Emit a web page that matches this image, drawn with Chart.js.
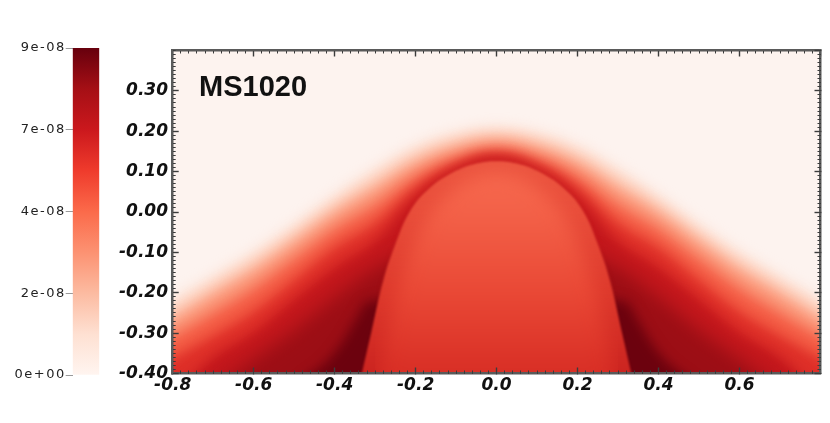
<!DOCTYPE html>
<html>
<head>
<meta charset="utf-8">
<title>MS1020</title>
<script src="https://cdn.jsdelivr.net/npm/chart.js@4.4.1/dist/chart.umd.min.js"></script>
<style>
  html, body { margin: 0; padding: 0; background: #fff; }
  #wrap { position: relative; width: 830px; height: 423px; }
  #wrap canvas { position: absolute; left: 0; top: 0; }
</style>
</head>
<body>
<div id="wrap">
  <canvas id="field" width="830" height="423"></canvas>
  <canvas id="colorbar" width="110" height="423"></canvas>
</div>
<script>
// ---- values ----
const panelLabel = 'MS1020';

const xMajorTicks = [-0.8, -0.6, -0.4, -0.2, 0.0, 0.2, 0.4, 0.6];
const xTickLabels = ['-0.8', '-0.6', '-0.4', '-0.2', '0.0', '0.2', '0.4', '0.6'];
const yMajorTicks = [-0.4, -0.3, -0.2, -0.1, 0.0, 0.1, 0.2, 0.3];
const yTickLabels = ['-0.40', '-0.30', '-0.20', '-0.10', '0.00', '0.10', '0.20', '0.30'];

const cbTickValues = [0, 2.25e-8, 4.5e-8, 6.75e-8, 9e-8];
const cbTickLabels = ['0e+00', '2e-08', '4e-08', '7e-08', '9e-08'];
const cbStops = [0, 0.125, 0.25, 0.375, 0.5, 0.625, 0.75, 0.875, 1];
const cbColors = ['#fff5f0', '#fee0d2', '#fcbba1', '#fc9272', '#fb6a4a', '#ef3b2c', '#cb181d', '#a50f15', '#67000d'];

// level lines of the field, y at each x (outer shell, outermost first)
const shellX     = [-0.9, -0.8, -0.7, -0.6, -0.5, -0.4, -0.3, -0.2, -0.1, 0.0, 0.1, 0.2, 0.3, 0.4, 0.5, 0.6, 0.7, 0.8, 0.9];
const edgePale   = [-0.285, -0.222, -0.163, -0.103, -0.035, 0.037, 0.103, 0.160, 0.194, 0.207, 0.194, 0.160, 0.103, 0.037, -0.035, -0.103, -0.163, -0.222, -0.285];
const edgeSalmon = [-0.320, -0.262, -0.200, -0.140, -0.070, 0.002, 0.064, 0.126, 0.165, 0.182, 0.165, 0.126, 0.064, 0.002, -0.070, -0.140, -0.200, -0.262, -0.320];
const edgeOrange = [-0.365, -0.308, -0.250, -0.189, -0.116, -0.042, 0.018, 0.090, 0.136, 0.158, 0.136, 0.090, 0.018, -0.042, -0.116, -0.189, -0.250, -0.308, -0.365];
const edgeRed    = [-0.418, -0.362, -0.306, -0.246, -0.168, -0.088, -0.027, 0.062, 0.120, 0.145, 0.120, 0.062, -0.027, -0.088, -0.168, -0.246, -0.306, -0.362, -0.418];
const haloDark   = [-0.520, -0.450, -0.360, -0.298, -0.216, -0.138, -0.072, 0.038, 0.107, 0.136, 0.107, 0.038, -0.072, -0.138, -0.216, -0.298, -0.360, -0.450, -0.520];
const haloDeep   = [-0.620, -0.550, -0.445, -0.365, -0.292, -0.212, -0.140, -0.100, -0.100, -0.100, -0.100, -0.100, -0.140, -0.212, -0.292, -0.365, -0.445, -0.550, -0.620];

// darkest spots at the foot of the inner dome
const footX = [-0.54, -0.47, -0.42, -0.38, -0.35, -0.31, 0.0, 0.31, 0.35, 0.38, 0.42, 0.47, 0.54];
const footY = [-0.47, -0.41, -0.37, -0.32, -0.27, -0.22, -0.22, -0.22, -0.27, -0.32, -0.37, -0.41, -0.47];

// inner dome outline and its lighter core
const domeX = [-0.345, -0.333, -0.31, -0.28, -0.25, -0.215, -0.17, -0.11, -0.05, 0.0, 0.05, 0.11, 0.17, 0.215, 0.25, 0.28, 0.31, 0.333, 0.345];
const domeY = [-0.45, -0.40, -0.30, -0.17, -0.08, 0.0, 0.055, 0.097, 0.120, 0.126, 0.120, 0.097, 0.055, 0.0, -0.08, -0.17, -0.30, -0.40, -0.45];
const coreX = [-0.30, -0.27, -0.23, -0.18, -0.12, -0.06, 0.0, 0.06, 0.12, 0.18, 0.23, 0.27, 0.30];
const coreY = [-0.45, -0.30, -0.15, -0.03, 0.045, 0.085, 0.097, 0.085, 0.045, -0.03, -0.15, -0.30, -0.45];

const domeShadeAt = [0.126, 0.0, -0.2, -0.4];
const domeShell   = ['#ec5540', '#e94d3a', '#de392c', '#cc2420'];
const domeCore    = ['#f66a4f', '#f36148', '#e94835', '#d82e25'];

// ---- drawing ----
const AXIS = '#5a5a5a';
const TICK = '#3c3c3c';
const tickFont = { family: 'DejaVu Sans', size: 17, weight: 'bold', style: 'italic' };
const labelAt = [-0.735, 0.307];

function shade(stops, colors) {
  return (c) => {
    const chart = c.chart;
    if (!chart.chartArea) return colors[0];
    const ys = chart.scales.y;
    const top = stops[0], bot = stops[stops.length - 1];
    const g = chart.ctx.createLinearGradient(0, ys.getPixelForValue(top), 0, ys.getPixelForValue(bot));
    stops.forEach((s, i) => g.addColorStop((top - s) / (top - bot), colors[i]));
    return g;
  };
}

// bottom layer first
const layers = [
  { xs: shellX, ys: edgePale,   color: '#fdd3c0', blur: 7 },
  { xs: shellX, ys: edgeSalmon, color: '#fb9677', blur: 7 },
  { xs: shellX, ys: edgeOrange, color: '#f35a43', blur: 7 },
  { xs: shellX, ys: edgeRed,    color: '#de2f28', blur: 6 },
  { xs: shellX, ys: haloDark,   color: '#c3171c', blur: 6 },
  { xs: shellX, ys: haloDeep,   color: '#9c0e15', blur: 9 },
  { xs: footX,  ys: footY,      color: '#6c020e', blur: 6 },
  { xs: domeX,  ys: domeY,      color: shade(domeShadeAt, domeShell), blur: 1 },
  { xs: coreX,  ys: coreY,      color: shade(domeShadeAt, domeCore), blur: 9 }
];

const datasets = layers.map((l, i) => ({
  data: l.xs.map((x, k) => ({ x: x, y: l.ys[k] })),
  backgroundColor: l.color,
  borderColor: 'rgba(0,0,0,0)',
  borderWidth: 0,
  pointRadius: 0,
  fill: { value: -0.7 },
  tension: 0.4,
  capBezierPoints: false,
  blur: l.blur,
  order: layers.length - i
}));

function drawSeq(chart) {
  return chart.getSortedVisibleDatasetMetas().map(m => m.index).reverse();
}
function blurOf(chart, i) {
  const b = chart.data.datasets[i].blur || 0;
  return b ? 'blur(' + b + 'px)' : 'none';
}

// soft edges: each layer gets its own blur (set before the filler paints it)
const softEdges = {
  id: 'softEdges',
  beforeDatasetsDraw(chart) {
    const seq = drawSeq(chart);
    chart.ctx.filter = seq.length ? blurOf(chart, seq[0]) : 'none';
  },
  afterDatasetDraw(chart, args) {
    const seq = drawSeq(chart);
    const k = seq.indexOf(args.index);
    chart.ctx.filter = k + 1 < seq.length ? blurOf(chart, seq[k + 1]) : 'none';
  },
  afterDatasetsDraw(chart) {
    chart.ctx.filter = 'none';
  }
};

const paper = {
  id: 'paper',
  beforeDraw(chart) {
    const { ctx, chartArea: a } = chart;
    ctx.save();
    ctx.fillStyle = '#fdf3ef';
    ctx.fillRect(a.left, a.top, a.right - a.left, a.bottom - a.top);
    ctx.restore();
  }
};

const panelTag = {
  id: 'panelTag',
  afterDatasetsDraw(chart) {
    const { ctx, scales } = chart;
    ctx.save();
    ctx.filter = 'none';
    ctx.font = 'bold 29px "Liberation Sans", Arial, sans-serif';
    ctx.fillStyle = '#111';
    ctx.textBaseline = 'middle';
    ctx.fillText(panelLabel, scales.x.getPixelForValue(labelAt[0]), scales.y.getPixelForValue(labelAt[1]));
    ctx.restore();
  }
};

function major(pos, min, max, values, labels, size) {
  const horizontal = pos === 'top' || pos === 'bottom';
  return {
    type: 'linear', position: pos, min: min, max: max, weight: 1,
    afterBuildTicks: s => { s.ticks = values.map(v => ({ value: v })); },
    afterFit: s => { if (horizontal) s.height = size; else s.width = size; },
    ticks: {
      display: !!labels, autoSkip: false, maxRotation: 0,
      padding: horizontal ? 8 : 10.7, color: '#111', font: tickFont,
      callback: (v, i) => labels ? labels[i] : ''
    },
    grid: { drawOnChartArea: false, tickLength: -6, tickColor: TICK, tickWidth: 1.4, z: 1 },
    border: { display: true, color: AXIS, width: 2.5, z: 1 }
  };
}
function minor(pos, min, max, step) {
  const horizontal = pos === 'top' || pos === 'bottom';
  return {
    type: 'linear', position: pos, min: min, max: max, weight: 0,
    afterFit: s => { if (horizontal) s.height = 0; else s.width = 0; },
    ticks: { display: false, stepSize: step, autoSkip: false },
    grid: { drawOnChartArea: false, tickLength: -3, tickColor: TICK, tickWidth: 1, z: 1 },
    border: { display: false }
  };
}

const xAll = [-0.8, -0.6, -0.4, -0.2, 0.0, 0.2, 0.4, 0.6, 0.8];
const yAll = [-0.4, -0.3, -0.2, -0.1, 0.0, 0.1, 0.2, 0.3, 0.4];

new Chart(document.getElementById('field'), {
  type: 'line',
  data: { datasets: datasets },
  options: {
    responsive: false,
    animation: false,
    events: [],
    layout: { padding: { left: 0, right: 9.5, top: 50.5, bottom: 0 } },
    plugins: { legend: { display: false }, tooltip: { enabled: false } },
    scales: {
      x: major('bottom', -0.8, 0.8, xMajorTicks, xTickLabels, 49.5),
      xMinor: minor('bottom', -0.8, 0.8, 0.02),
      xTop: major('top', -0.8, 0.8, xAll, null, 0),
      xTopMinor: minor('top', -0.8, 0.8, 0.02),
      y: major('left', -0.4, 0.4, yMajorTicks, yTickLabels, 172.7),
      yMinor: minor('left', -0.4, 0.4, 0.01),
      yRight: major('right', -0.4, 0.4, yAll, null, 0),
      yRightMinor: minor('right', -0.4, 0.4, 0.01)
    }
  },
  plugins: [paper, softEdges, panelTag]
});

// ---- colour bar ----
const wideText = {
  id: 'wideText',
  beforeUpdate(chart) { chart.ctx.letterSpacing = '1.5px'; },
  beforeDraw(chart) { chart.ctx.letterSpacing = '1.5px'; }
};

new Chart(document.getElementById('colorbar'), {
  type: 'bar',
  data: {
    labels: [''],
    datasets: [{
      data: [cbTickValues[cbTickValues.length - 1]],
      backgroundColor: (c) => {
        const chart = c.chart;
        if (!chart.chartArea) return cbColors[4];
        const ys = chart.scales.y;
        const g = chart.ctx.createLinearGradient(0, ys.getPixelForValue(ys.min), 0, ys.getPixelForValue(ys.max));
        cbStops.forEach((s, i) => g.addColorStop(s, cbColors[i]));
        return g;
      },
      borderWidth: 0,
      barPercentage: 1,
      categoryPercentage: 1
    }]
  },
  options: {
    responsive: false,
    animation: false,
    events: [],
    layout: { padding: { top: 48, bottom: 48, left: 0, right: 10.7 } },
    plugins: { legend: { display: false }, tooltip: { enabled: false } },
    scales: {
      x: { display: false },
      y: {
        min: 0, max: cbTickValues[cbTickValues.length - 1],
        afterBuildTicks: s => { s.ticks = cbTickValues.map(v => ({ value: v })); },
        afterFit: s => { s.width = 72.7; },
        ticks: {
          padding: 0, color: '#222',
          font: { family: 'DejaVu Sans', size: 13 },
          callback: (v, i) => cbTickLabels[i]
        },
        grid: { drawOnChartArea: false, tickLength: 7, tickColor: '#9a9a9a', tickWidth: 1 },
        border: { display: false }
      }
    }
  },
  plugins: [wideText]
});
</script>
</body>
</html>
